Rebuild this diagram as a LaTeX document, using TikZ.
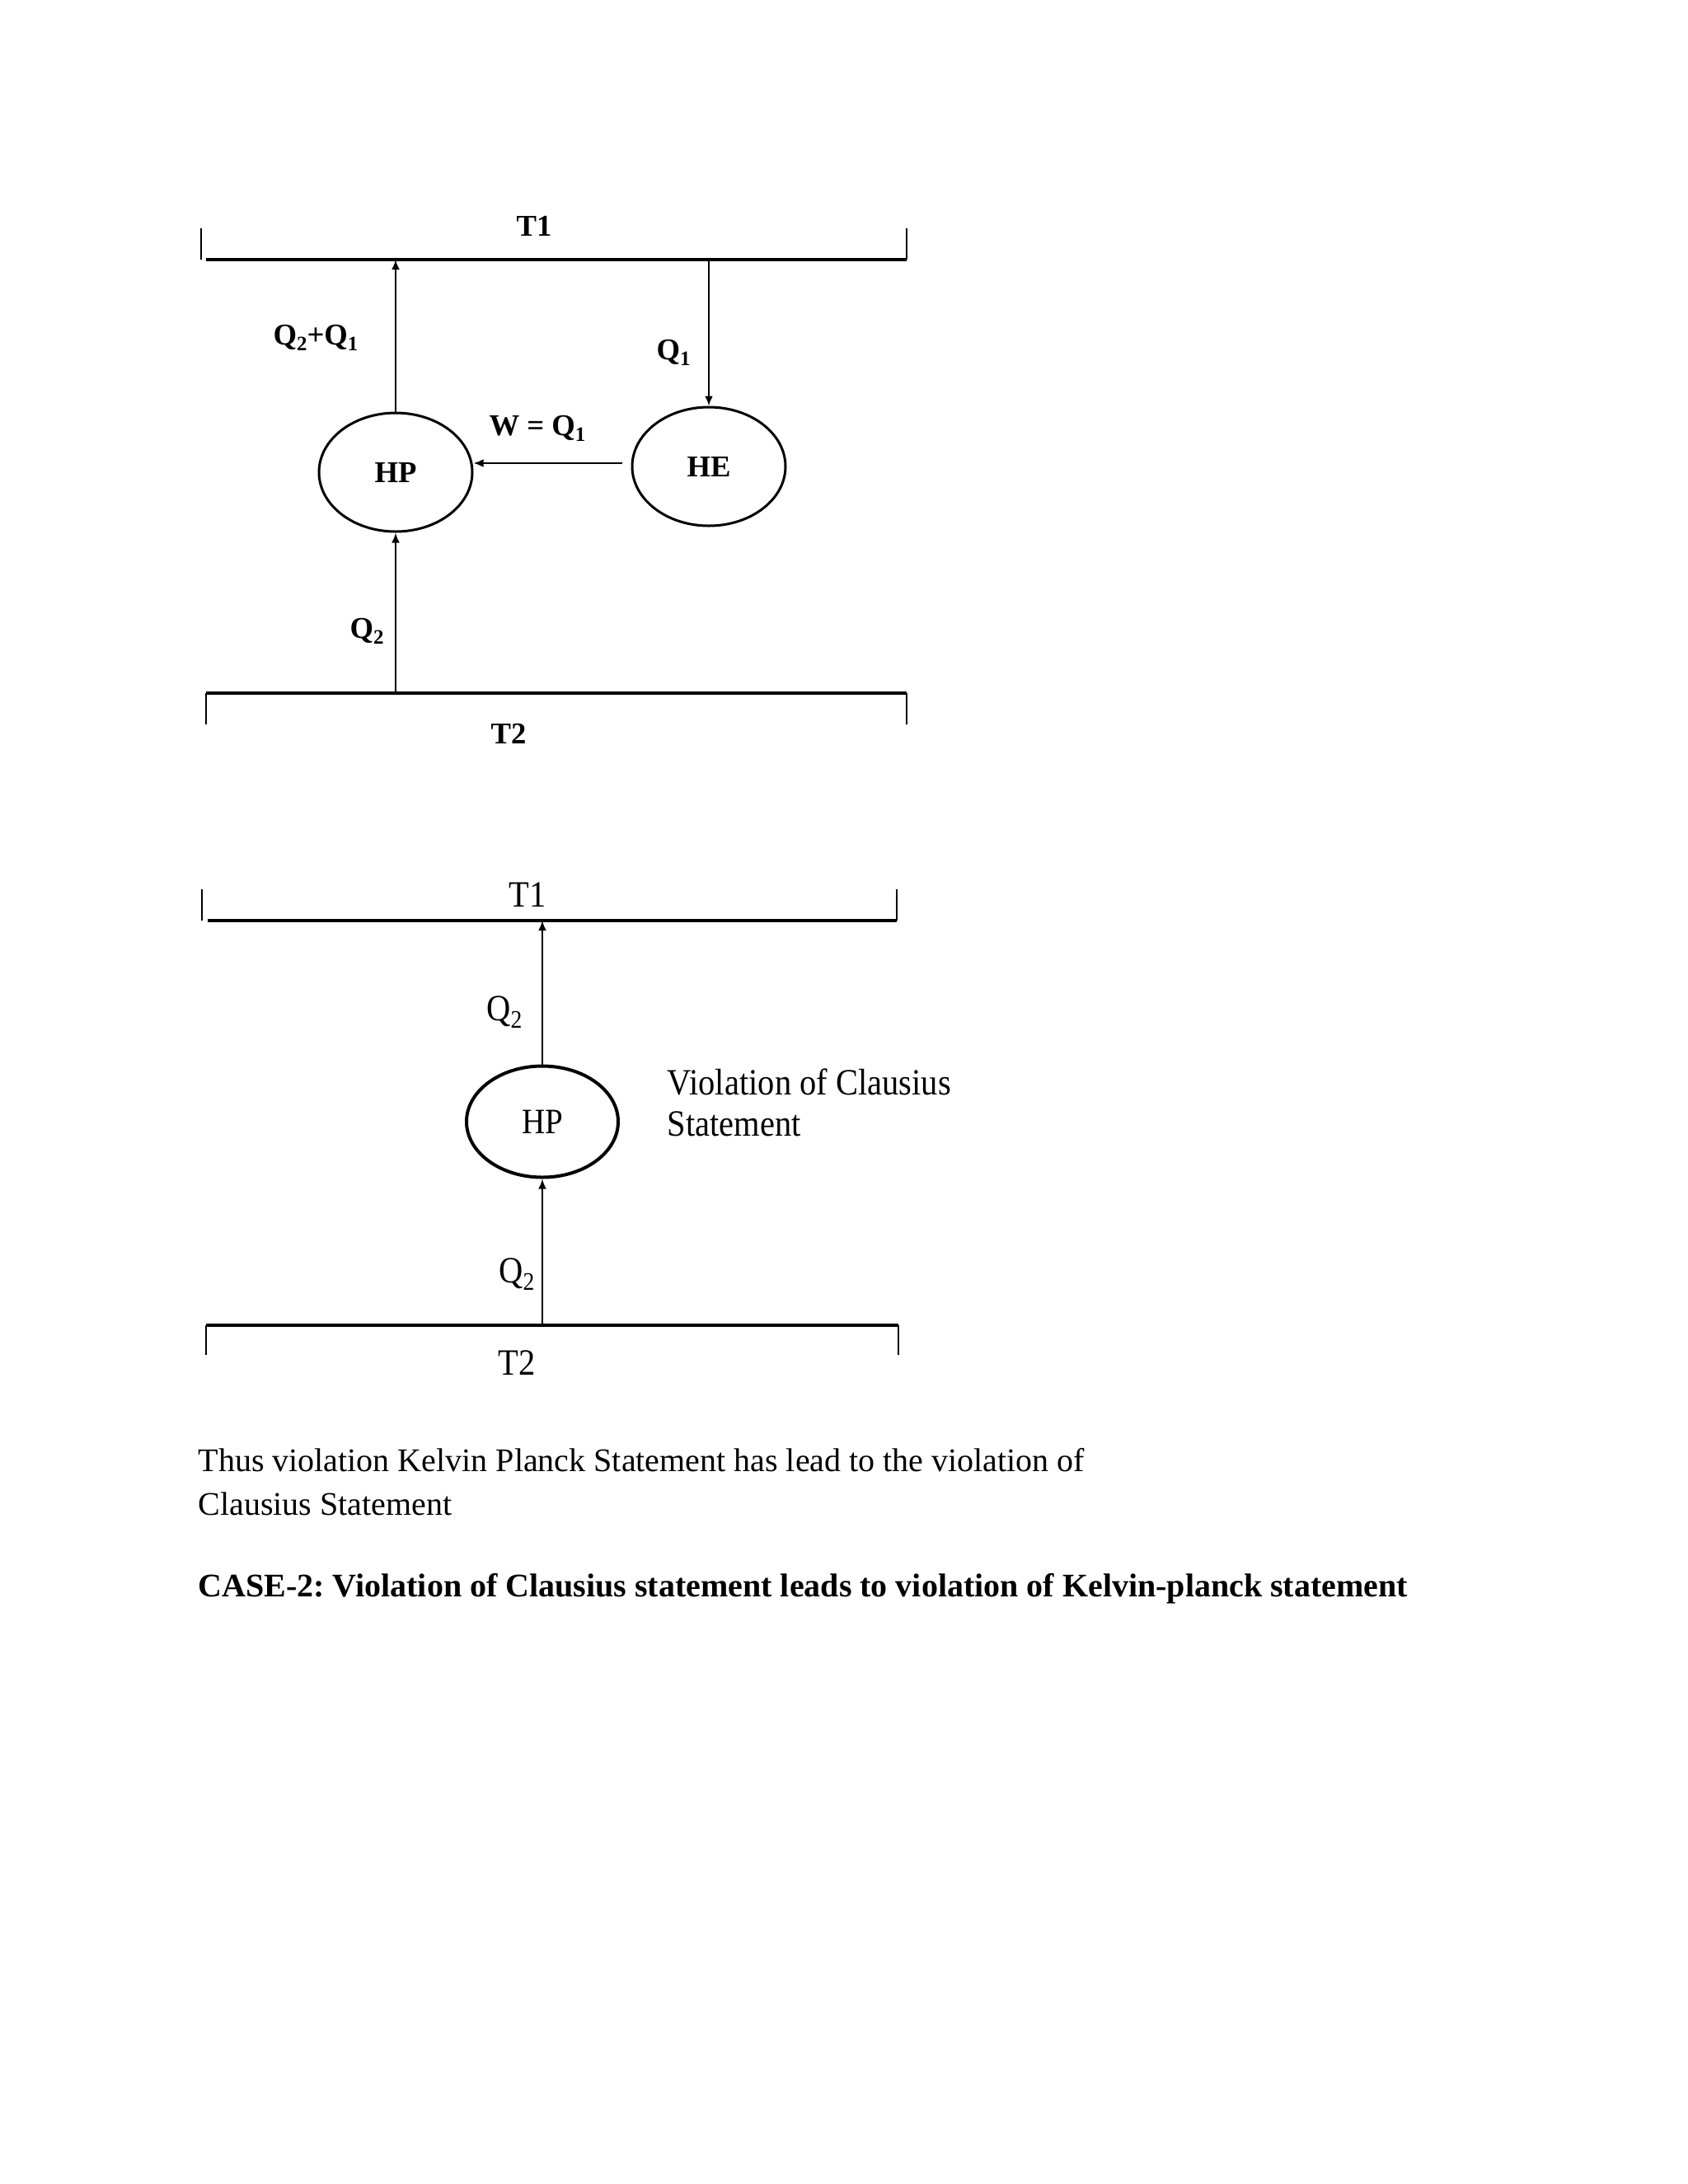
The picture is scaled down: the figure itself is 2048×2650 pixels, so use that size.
\documentclass[tikz,border=0pt]{standalone}
\usepackage{fontspec}
\setmainfont{Liberation Serif}
\newfontfamily\condserif[FakeStretch=0.9]{Liberation Serif}
\usetikzlibrary{arrows.meta,shapes.geometric}
\newcommand{\subsc}[1]{\raisebox{-0.45ex}{\fontsize{0.68em}{0.68em}\selectfont #1}}
\frenchspacing
\begin{document}
\begin{tikzpicture}[x=0.3pt,y=-0.3pt,
 res/.style={line width=0.95pt},
 resb/.style={line width=1.3pt},
 tick/.style={line width=0.8pt},
 flow/.style={line width=0.8pt,-{Latex[length=3.6pt,width=3pt]}},
 dev/.style={ellipse,draw,line width=0.9pt,minimum width=55.8pt,minimum height=43.2pt,inner sep=0pt,font=\fontsize{11}{13}\selectfont\bfseries},
 devb/.style={ellipse,draw,line width=1.2pt,minimum width=55.2pt,minimum height=40.5pt,inner sep=0pt,font=\fontsize{13}{15}\selectfont\condserif},
 lbl/.style={font=\fontsize{11}{13}\selectfont\bfseries,inner sep=0pt},
 lblb/.style={font=\fontsize{13.5}{15}\selectfont\condserif,inner sep=0pt},
 body/.style={font=\fontsize{12}{14}\selectfont,inner sep=0pt,anchor=base west}]
\useasboundingbox (0,0) rectangle (2048,2650);

% ---------- top diagram ----------
\coordinate (t1L) at (250,315);
\coordinate (t1R) at (1100,315);
\coordinate (t1tickL) at (244,277);
\coordinate (t1tickR) at (1100,277);
\draw[res] (t1L) -- (t1R);
\draw[tick] (t1tickL) -- (t1tickL |- t1L);
\draw[tick] (t1tickR) -- (t1R);
\node[lbl] (t1lab) at (648,274) {T1};

\node[dev] (hp1) at (480,573) {HP};
\node[dev] (he) at (860,566) {HE};

\draw[flow] (hp1.north) -- (hp1.north |- t1L);
\draw[flow] (he.north |- t1L) -- (he.north);
\coordinate (wstart) at (755,562);
\draw[flow] (wstart) -- (wstart -| hp1.east);

\coordinate (t2L) at (250,841);
\coordinate (t2R) at (1100,841);
\coordinate (t2tickL) at (250,879);
\coordinate (t2tickR) at (1100,879);
\draw[res] (t2L) -- (t2R);
\draw[tick] (t2L) -- (t2tickL);
\draw[tick] (t2R) -- (t2tickR);
\draw[flow] (hp1.south |- t2L) -- (hp1.south);

\node[lbl] (q21) at (383,410) {Q\subsc{2}+Q\subsc{1}};
\node[lbl] (q1) at (817,428) {Q\subsc{1}};
\node[lbl] (w) at (652,520) {W = Q\subsc{1}};
\node[lbl] (q2a) at (445,766) {Q\subsc{2}};
\node[lbl] (t2lab) at (617,890) {T2};

% ---------- bottom diagram ----------
\coordinate (b1L) at (252,1117);
\coordinate (b1R) at (1088,1117);
\coordinate (b1tickL) at (245,1079);
\coordinate (b1tickR) at (1088,1079);
\draw[resb] (b1L) -- (b1R);
\draw[tick] (b1tickL) -- (b1tickL |- b1L);
\draw[tick] (b1tickR) -- (b1R);
\node[lblb] (b1lab) at (640,1086) {T1};

\node[devb] (hp2) at (658,1361) {HP};
\draw[flow] (hp2.north) -- (hp2.north |- b1L);

\coordinate (b2L) at (250,1608);
\coordinate (b2R) at (1090,1608);
\coordinate (b2tickL) at (250,1644);
\coordinate (b2tickR) at (1090,1644);
\draw[resb] (b2L) -- (b2R);
\draw[tick] (b2L) -- (b2tickL);
\draw[tick] (b2R) -- (b2tickR);
\draw[flow] (hp2.south |- b2L) -- (hp2.south);

\node[lblb] (q2b) at (612,1228) {Q\subsc{2}};
\node[lblb] (q2c) at (627,1546) {Q\subsc{2}};
\node[lblb] (b2lab) at (627,1654) {T2};
\node[lblb,anchor=west,align=left] (viol) at (809,1338) {Violation of Clausius\\Statement};

% ---------- text ----------
\node[body] (txt1) at (240,1785) {Thus violation Kelvin Planck Statement has lead to the violation of};
\node[body] (txt2) at (240,1838) {Clausius Statement};
\node[body,font=\fontsize{12}{14}\selectfont\bfseries] (case2) at (240,1937) {CASE-2: Violation of Clausius statement leads to violation of Kelvin-planck statement};
\end{tikzpicture}
\end{document}
